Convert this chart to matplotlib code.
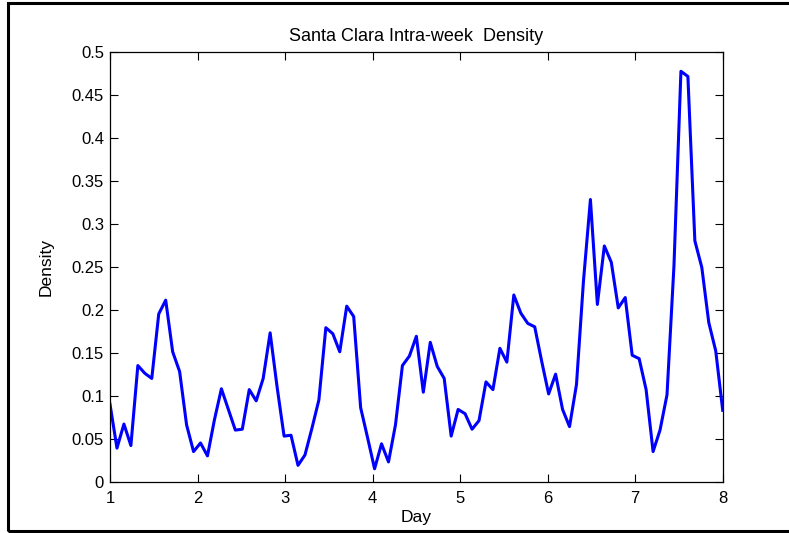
import numpy as np
import matplotlib
matplotlib.use("Agg")
import matplotlib.pyplot as plt
from matplotlib.patches import Rectangle

# density values (89 samples from day 1 to day 8)
density = [
    0.090, 0.039, 0.067, 0.042, 0.135, 0.126, 0.120, 0.195, 0.211, 0.151,
    0.128, 0.066, 0.035, 0.045, 0.030, 0.072, 0.108, 0.084, 0.060, 0.061,
    0.107, 0.094, 0.120, 0.173, 0.110, 0.053, 0.054, 0.019, 0.031, 0.062,
    0.095, 0.179, 0.172, 0.151, 0.204, 0.192, 0.086, 0.051, 0.015, 0.044,
    0.023, 0.066, 0.135, 0.146, 0.169, 0.104, 0.162, 0.134, 0.120, 0.053,
    0.084, 0.079, 0.061, 0.071, 0.116, 0.107, 0.155, 0.139, 0.217, 0.196,
    0.184, 0.180, 0.140, 0.102, 0.125, 0.084, 0.064, 0.113, 0.233, 0.328,
    0.206, 0.274, 0.255, 0.202, 0.214, 0.147, 0.143, 0.107, 0.035, 0.060,
    0.101, 0.251, 0.477, 0.471, 0.280, 0.249, 0.185, 0.152, 0.083,
]
day = np.linspace(1, 8, len(density))

x_ticks = [1, 2, 3, 4, 5, 6, 7, 8]
y_ticks = [0, 0.05, 0.1, 0.15, 0.2, 0.25, 0.3, 0.35, 0.4, 0.45, 0.5]
y_labels = ["0", "0.05", "0.1", "0.15", "0.2", "0.25", "0.3", "0.35", "0.4", "0.45", "0.5"]

plt.rcParams['font.family'] = ['Liberation Sans', 'DejaVu Sans']
plt.rcParams['font.size'] = 12

W, H = 789, 533
fig = plt.figure(figsize=(W / 100, H / 100), dpi=100)
ax = fig.add_axes([110 / W, 1 - 481.7 / H, (722.7 - 110) / W, (481.7 - 51.5) / H])

ax.plot(day, density, color='#0000ff', linewidth=2.2)

ax.set_xlim(1, 8)
ax.set_ylim(0, 0.5)
ax.set_xticks(x_ticks)
ax.set_xticklabels([str(t) for t in x_ticks])
ax.set_yticks(y_ticks)
ax.set_yticklabels(y_labels)
ax.tick_params(direction='in', length=5.5, width=0.8, top=True, right=True, labelsize=12)
ax.tick_params(axis='x', pad=6.5)
ax.tick_params(axis='y', pad=4.3)
for s in ax.spines.values():
    s.set_linewidth(0.9)

ax.set_title("Santa Clara Intra-week  Density", fontsize=13, pad=7.5)
ax.set_xlabel("Day", fontsize=12.5, labelpad=3)
ax.set_ylabel("Density", fontsize=12.5, labelpad=13)

# black frame around the figure
fig.patches.append(Rectangle((8 / W, 1 - 530.5 / H), 1.0, (530.5 - 3) / H,
                             transform=fig.transFigure, fill=False,
                             edgecolor='black', linewidth=2.2))

fig.savefig("out.png", dpi=100)
